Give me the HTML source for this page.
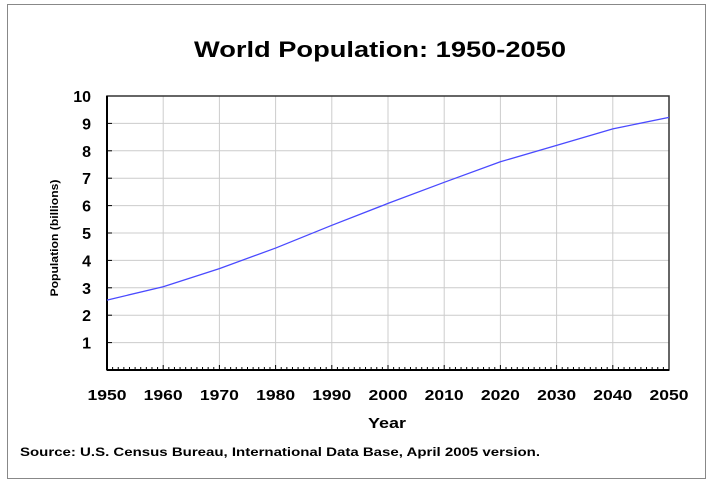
<!DOCTYPE html>
<html><head><meta charset="utf-8"><style>
body{margin:0;background:#fff;}
svg{display:block;font-family:"Liberation Sans",Arial,sans-serif;}
</style></head><body>
<svg width="712" height="484">
<rect x="7.5" y="4.5" width="698" height="474" fill="#fff" stroke="#888"/>
<text x="380" y="57" text-anchor="middle" font-size="22" font-weight="bold" textLength="372" lengthAdjust="spacingAndGlyphs">World Population: 1950-2050</text>
<g id="grid"></g>
<g id="axes"></g>
<path id="line" fill="none" stroke="#4a4aff" stroke-width="1.3"/>
<text x="387" y="428" text-anchor="middle" font-size="15" font-weight="bold" textLength="38" lengthAdjust="spacingAndGlyphs">Year</text>
<text transform="translate(58,238) rotate(-90)" text-anchor="middle" font-size="11" font-weight="bold" textLength="117" lengthAdjust="spacingAndGlyphs">Population (billions)</text>
<text x="20" y="456" font-size="12" font-weight="bold" textLength="520" lengthAdjust="spacingAndGlyphs">Source: U.S. Census Bureau, International Data Base, April 2005 version.</text>
</svg>
<script>
const years=[1950,1960,1970,1980,1990,2000,2010,2020,2030,2040,2050];
const population=[2.55,3.04,3.7,4.45,5.28,6.08,6.85,7.6,8.2,8.8,9.22];
const yTicks=[1,2,3,4,5,6,7,8,9,10];
const xTicks=[1950,1960,1970,1980,1990,2000,2010,2020,2030,2040,2050];
const L=107,R=669,T=96,B=370;
const xs=v=>L+(v-1950)/100*(R-L);
const ys=v=>B-v/10*(B-T);
const NS="http://www.w3.org/2000/svg";
const grid=document.getElementById('grid'),axes=document.getElementById('axes');
function mk(tag,attrs,parent){const e=document.createElementNS(NS,tag);for(const k in attrs)e.setAttribute(k,attrs[k]);parent.appendChild(e);return e;}
yTicks.forEach(v=>{
  const y=ys(v);
  if(v<10){const g=mk('line',{x1:L,x2:R,y1:y,y2:y,stroke:'#ccc','stroke-width':1},grid);
  
  
  const tk=mk('line',{x1:L,x2:L+5,y1:y,y2:y,stroke:'#000'},axes);
  
  }
  const t=mk('text',{x:91,y:y+6,'text-anchor':'end','font-size':16,'font-weight':'bold'},axes);
  t.textContent=v;
  
  
});
xTicks.forEach(v=>{
  const x=xs(v);
  if(v>1950&&v<2050){const g=mk('line',{x1:x,x2:x,y1:T,y2:B,stroke:'#ccc','stroke-width':1},grid);
  
  }
  const t=mk('text',{x:x,y:400,'text-anchor':'middle','font-size':15,'font-weight':'bold',textLength:39,lengthAdjust:'spacingAndGlyphs'},axes);
  t.textContent=v;
  
  
});
for(let yr=1951;yr<2050;yr++){
  const x=xs(yr);
  const tk=mk('line',{x1:x,x2:x,y1:B,y2:B-(yr%10==0?5:3),stroke:'#000'},axes);
  
  
}
const f=mk('rect',{x:L,y:T,width:R-L,height:B-T,fill:'none',stroke:'#333','stroke-width':1.5},axes);


const a=mk('line',{x1:L,x2:L,y1:T,y2:B,stroke:'#000','stroke-width':2},axes);


const b=mk('line',{x1:L,x2:R,y1:B,y2:B,stroke:'#000','stroke-width':2},axes);


document.getElementById('line').setAttribute('d',years.map((yr,i)=>(i?'L':'M')+xs(yr)+','+ys(population[i])).join(' '));
</script>
</body></html>
